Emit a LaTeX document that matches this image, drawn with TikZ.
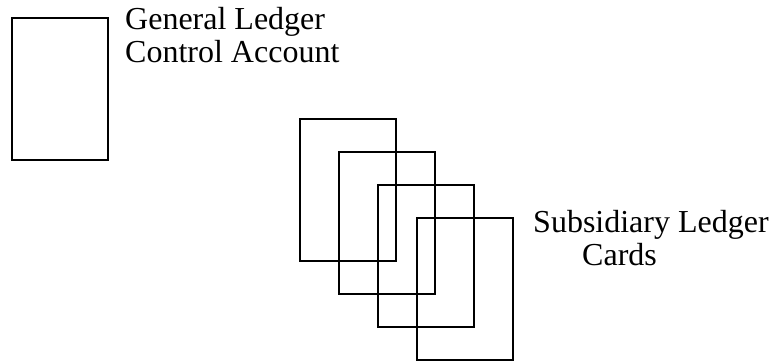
\documentclass[tikz,border=0pt]{standalone}
\usepackage{fontspec}
\setmainfont{Liberation Serif}

\begin{document}
\begin{tikzpicture}[x=1pt,y=1pt,
		card/.style={draw,line width=2pt,minimum width=96pt,minimum height=142pt,inner sep=0pt},
		caption/.style={align=left,anchor=base west,inner sep=0pt,font=\fontsize{32}{33}\selectfont}]
		\useasboundingbox (0,0) rectangle (773,362);
		\node[card] (control) at (60,273) {};
		\node[caption] (controltext) at (125,299) {General Ledger\\Control Account};
		\foreach \i in {0,1,2,3}
		\node[card] (card\i) at (348+39*\i,172-33*\i) {};
		\node[caption] (cardtext) at (533,97) {Subsidiary Ledger\\\hspace*{49pt}Cards};
	\end{tikzpicture}
\end{document}
